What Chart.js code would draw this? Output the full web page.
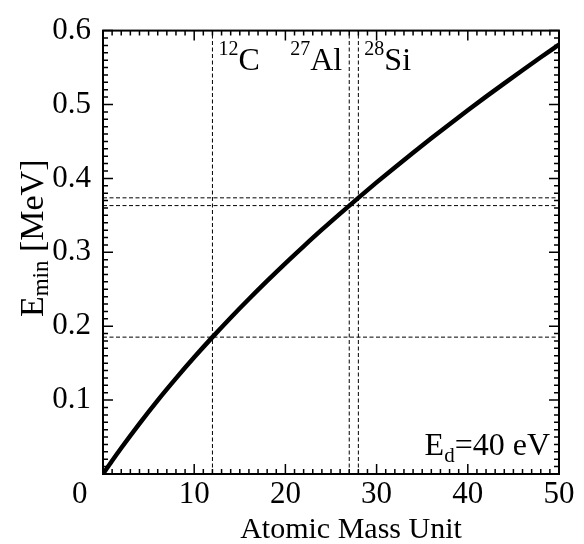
<!DOCTYPE html>
<html>
<head>
<meta charset="utf-8">
<script src="https://cdn.jsdelivr.net/npm/chart.js@4.4.0/dist/chart.umd.min.js"></script>
<style>
  html, body { margin: 0; padding: 0; background: #fff; }
  #wrap { width: 584px; height: 544px; }
</style>
</head>
<body>
<div id="wrap"><canvas id="myChart" width="584" height="544"></canvas></div>
<script>
// threshold curve, electron energy needed vs target mass (Ed = 40 eV)
const massUnit = [0, 1, 2, 4, 6, 8, 10, 12, 14, 16, 18, 20, 22, 24, 26, 28, 30, 32, 34, 36, 38, 40, 42, 44, 46, 48, 50];
const eMin = [0, 0.0179, 0.0352, 0.0683, 0.0997, 0.1294, 0.1579, 0.1852, 0.2115, 0.2368, 0.2613, 0.2851, 0.3081,
  0.3306, 0.3524, 0.3737, 0.3946, 0.4149, 0.4348, 0.4543, 0.4734, 0.4922, 0.5106, 0.5286, 0.5464, 0.5639, 0.5811];

// marked isotopes
const markMass = [12, 27, 28];
const markEnergy = [0.1852, 0.3632, 0.3737];
const isoNumber = ["12", "27", "28"];
const isoSymbol = ["C", "Al", "Si"];
const isoSide = ["right", "left", "right"];

const xMin = 0, xMax = 50, xMajor = 10, xMinor = 1;
const yMin = 0, yMax = 0.6, yMajor = 0.1, yMinor = 0.01;

const FONT = "'Liberation Serif', 'Times New Roman', serif";

const datasets = [];
// dashed guide lines
for (let i = 0; i < markMass.length; i++) {
  datasets.push({
    data: [{ x: markMass[i], y: yMin }, { x: markMass[i], y: yMax }],
    borderColor: "#000", borderWidth: 1, borderDash: [4, 2.5], pointRadius: 0, showLine: true, order: 2,
  });
  datasets.push({
    data: [{ x: xMin, y: markEnergy[i] }, { x: xMax, y: markEnergy[i] }],
    borderColor: "#000", borderWidth: 1, borderDash: [4, 2.5], pointRadius: 0, showLine: true, order: 2,
  });
}
datasets.push({
  data: massUnit.map((m, i) => ({ x: m, y: eMin[i] })),
  borderColor: "#000",
  borderWidth: 4.5,
  pointRadius: 0,
  showLine: true,
  cubicInterpolationMode: "monotone",
  order: 1,
});

// frame, inside ticks on all sides, text labels
const framePlugin = {
  id: "frame",
  afterDatasetsDraw(chart) {
    const ctx = chart.ctx, a = chart.chartArea;
    const xs = chart.scales.x, ys = chart.scales.y;
    ctx.save();
    ctx.strokeStyle = "#000";
    ctx.lineWidth = 1.5;
    ctx.beginPath();
    const nx = Math.round((xMax - xMin) / xMinor);
    for (let k = 0; k <= nx; k++) {
      const v = xMin + k * xMinor;
      const px = xs.getPixelForValue(v);
      const len = k % Math.round(xMajor / xMinor) === 0 ? 10 : 5;
      ctx.moveTo(px, a.bottom); ctx.lineTo(px, a.bottom - len);
      ctx.moveTo(px, a.top); ctx.lineTo(px, a.top + len);
    }
    const ny = Math.round((yMax - yMin) / yMinor);
    for (let k = 0; k <= ny; k++) {
      const v = yMin + k * yMinor;
      const py = ys.getPixelForValue(v);
      const len = k % Math.round(yMajor / yMinor) === 0 ? 10 : 5;
      ctx.moveTo(a.left, py); ctx.lineTo(a.left + len, py);
      ctx.moveTo(a.right, py); ctx.lineTo(a.right - len, py);
    }
    ctx.stroke();
    ctx.lineWidth = 2;
    ctx.strokeRect(a.left, a.top, a.right - a.left, a.bottom - a.top);

    ctx.fillStyle = "#000";
    ctx.textBaseline = "alphabetic";
    ctx.textAlign = "left";
    // isotope labels
    const big = "32px " + FONT, small = "20px " + FONT;
    for (let i = 0; i < markMass.length; i++) {
      const px = xs.getPixelForValue(markMass[i]);
      ctx.font = small; const w1 = ctx.measureText(isoNumber[i]).width;
      ctx.font = big; const w2 = ctx.measureText(isoSymbol[i]).width;
      const x0 = isoSide[i] === "right" ? px + 6 : px - 7 - w1 - w2;
      const base = a.top + 39;
      ctx.font = small; ctx.fillText(isoNumber[i], x0, base - 15);
      ctx.font = big; ctx.fillText(isoSymbol[i], x0 + w1, base);
    }
    // Ed label
    ctx.font = big; const wE = ctx.measureText("E").width, wR = ctx.measureText("=40 eV").width;
    ctx.font = "21px " + FONT; const wd = ctx.measureText("d").width;
    let x0 = a.right - 9 - wE - wd - wR;
    const b = a.bottom - 19;
    ctx.font = big; ctx.fillText("E", x0, b);
    ctx.font = "21px " + FONT; ctx.fillText("d", x0 + wE, b + 7);
    ctx.font = big; ctx.fillText("=40 eV", x0 + wE + wd, b);

    // x title
    ctx.font = "30px " + FONT;
    ctx.textAlign = "center";
    ctx.fillText("Atomic Mass Unit", (a.left + a.right) / 2 + 20, 538);

    // y title, rotated
    const yBig = "34px " + FONT, ySub = "23px " + FONT;
    ctx.textAlign = "left";
    ctx.font = yBig; const t1 = ctx.measureText("E").width, t3 = ctx.measureText(" [MeV]").width;
    ctx.font = ySub; const t2 = ctx.measureText("min").width;
    const total = t1 + t2 + t3;
    ctx.translate(43, (a.top + a.bottom) / 2 - 14 + total / 2);
    ctx.rotate(-Math.PI / 2);
    ctx.font = yBig; ctx.fillText("E", 0, 0);
    ctx.font = ySub; ctx.fillText("min", t1, 5);
    ctx.font = yBig; ctx.fillText(" [MeV]", t1 + t2, 0);
    ctx.restore();
  },
};

const config = {
  type: "scatter",
  data: { datasets: datasets },
  options: {
    responsive: false,
    animation: false,
    layout: { padding: { top: 19, right: 25, left: 0, bottom: 0 } },
    plugins: { legend: { display: false }, tooltip: { enabled: false } },
    scales: {
      x: {
        type: "linear",
        min: xMin,
        max: xMax,
        grid: { display: false, drawTicks: false },
        border: { display: false },
        ticks: {
          stepSize: xMajor,
          autoSkip: false,
          maxRotation: 0,
          padding: 2,
          color: "#000",
          font: { family: FONT, size: 31 },
          callback: (v) => (v === 0 ? "0\u2002\u2002\u2002" : String(v)),
        },
        afterFit: (s) => { s.height = 70; },
      },
      y: {
        type: "linear",
        min: yMin,
        max: yMax,
        grid: { display: false, drawTicks: false },
        border: { display: false },
        ticks: {
          stepSize: yMajor,
          padding: 12,
          color: "#000",
          font: { family: FONT, size: 31 },
          callback: (v) => (v === 0 ? "" : v.toFixed(1)),
        },
        afterFit: (s) => { s.width = 103; },
      },
    },
  },
  plugins: [framePlugin],
};

const context = document.getElementById("myChart").getContext("2d");
const chart = new Chart(context, config);
</script>
</body>
</html>
